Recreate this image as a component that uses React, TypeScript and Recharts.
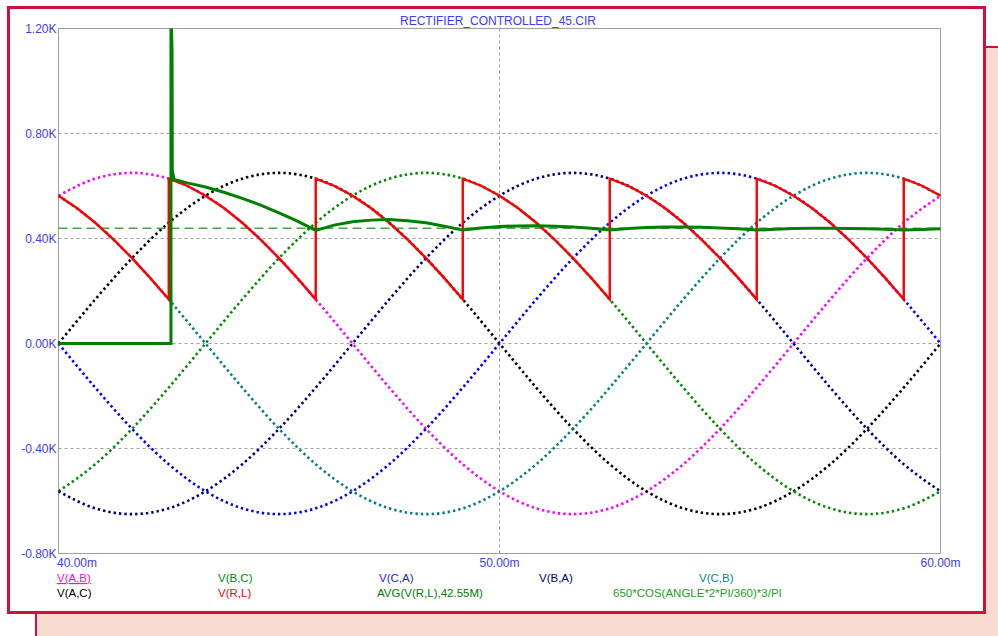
import { LineChart, Line, XAxis, YAxis, CartesianGrid, ReferenceArea } from "recharts";

// time axis in ms, one sample every 15 degrees of a 50 Hz cycle
const sineTime = [
  40, 40.833, 41.667, 42.5, 43.333, 44.167, 45, 45.833, 46.667, 47.5, 48.333, 49.167, 50,
  50.833, 51.667, 52.5, 53.333, 54.167, 55, 55.833, 56.667, 57.5, 58.333, 59.167, 60,
];

// line-to-line voltages (V)
const vAB = [563, 628, 650, 628, 563, 460, 325, 168, 0, -168, -325, -460, -563, -628, -650, -628, -563, -460, -325, -168, 0, 168, 325, 460, 563];
const vAC = [0, 168, 325, 460, 563, 628, 650, 628, 563, 460, 325, 168, 0, -168, -325, -460, -563, -628, -650, -628, -563, -460, -325, -168, 0];
const vBC = [-563, -460, -325, -168, 0, 168, 325, 460, 563, 628, 650, 628, 563, 460, 325, 168, 0, -168, -325, -460, -563, -628, -650, -628, -563];
const vBA = [-563, -628, -650, -628, -563, -460, -325, -168, 0, 168, 325, 460, 563, 628, 650, 628, 563, 460, 325, 168, 0, -168, -325, -460, -563];
const vCA = [0, -168, -325, -460, -563, -628, -650, -628, -563, -460, -325, -168, 0, 168, 325, 460, 563, 628, 650, 628, 563, 460, 325, 168, 0];
const vCB = [563, 460, 325, 168, 0, -168, -325, -460, -563, -628, -650, -628, -563, -460, -325, -168, 0, 168, 325, 460, 563, 628, 650, 628, 563];

// load voltage V(R,L), jumps every 60 degrees
const redTime = [
  40, 40.417, 40.833, 41.25, 41.667, 42.083, 42.5,
  42.5, 42.917, 43.333, 43.75, 44.167, 44.583, 45, 45.417, 45.833,
  45.833, 46.25, 46.667, 47.083, 47.5, 47.917, 48.333, 48.75, 49.167,
  49.167, 49.583, 50, 50.417, 50.833, 51.25, 51.667, 52.083, 52.5,
  52.5, 52.917, 53.333, 53.75, 54.167, 54.583, 55, 55.417, 55.833,
  55.833, 56.25, 56.667, 57.083, 57.5, 57.917, 58.333, 58.75, 59.167,
  59.167, 59.583, 60,
];
const redVolts = [
  563, 516, 460, 396, 325, 249, 168,
  628, 601, 563, 516, 460, 396, 325, 249, 168,
  628, 601, 563, 516, 460, 396, 325, 249, 168,
  628, 601, 563, 516, 460, 396, 325, 249, 168,
  628, 601, 563, 516, 460, 396, 325, 249, 168,
  628, 601, 563, 516, 460, 396, 325, 249, 168,
  628, 601, 563,
];

// AVG(V(R,L),42.55M)
const avgTime = [
  40, 42.55, 42.55, 42.575, 42.58, 42.62,
  42.917, 43.333, 43.75, 44.167, 44.583, 45, 45.417, 45.833,
  46.25, 46.667, 47.083, 47.5, 47.917, 48.333, 48.75, 49.167,
  49.583, 50, 50.417, 50.833, 51.25, 51.667, 52.083, 52.5,
  52.917, 53.333, 53.75, 54.167, 54.583, 55, 55.417, 55.833,
  56.25, 56.667, 57.083, 57.5, 57.917, 58.333, 58.75, 59.167,
  59.583, 60,
];
const avgVolts = [
  0, 0, 1300, 1110, 660, 625,
  612, 596, 576, 553, 527, 498, 466, 431,
  451, 464, 470, 472, 468, 460, 447, 432,
  440, 446, 448, 449, 447, 444, 439, 432,
  438, 442, 444, 444, 443, 440, 437, 432,
  435, 438, 439, 439, 438, 437, 435, 432,
  434, 437,
];

// 650*COS(ANGLE*2*PI/360)*3/PI
const cosTime = [40, 60];
const cosVolts = [439, 439];

const yTicks = [-800, -400, 0, 400, 800, 1200];
const xTicks = [40, 50, 60];

const sineRows = sineTime.map((t, i) => ({
  t, ab: vAB[i], ac: vAC[i], bc: vBC[i], ba: vBA[i], ca: vCA[i], cb: vCB[i],
}));
const redRows = redTime.map((t, i) => ({ t, v: redVolts[i] }));
const avgRows = avgTime.map((t, i) => ({ t, v: avgVolts[i] }));
const cosRows = cosTime.map((t, i) => ({ t, v: cosVolts[i] }));

const FONT = "'Liberation Sans', Arial, sans-serif";
const CRIMSON = "#d0103a";
const AXIS_BLUE = "#3c3cff";

const dotted = [
  { key: "ab", color: "#ff00ff" },
  { key: "ac", color: "#000000" },
  { key: "bc", color: "#008a00" },
  { key: "ba", color: "#000080" },
  { key: "ca", color: "#0000ff" },
  { key: "cb", color: "#008080" },
];

const legend = [
  { text: "V(A,B)", color: "#ff00ff", x: 57, y: 582, underline: true },
  { text: "V(B,C)", color: "#008a00", x: 218, y: 582 },
  { text: "V(C,A)", color: "#2020ff", x: 379, y: 582 },
  { text: "V(B,A)", color: "#000080", x: 539, y: 582 },
  { text: "V(C,B)", color: "#008a8a", x: 699, y: 582 },
  { text: "V(A,C)", color: "#000000", x: 57, y: 597 },
  { text: "V(R,L)", color: "#ff0000", x: 218, y: 597 },
  { text: "AVG(V(R,L),42.55M)", color: "#008000", x: 377, y: 597 },
  { text: "650*COS(ANGLE*2*PI/360)*3/PI", color: "#20a020", x: 613, y: 597 },
];

const YTick = ({ x, y, payload }: any) => (
  <text x={x} y={y + 4} textAnchor="end" fill={AXIS_BLUE} fontSize={12} fontFamily={FONT}>
    {(payload.value / 1000).toFixed(2) + "K"}
  </text>
);

const XTick = ({ x, y, payload, index }: any) => (
  <text
    x={index === 0 ? x - 1.5 : x}
    y={y + 13.5}
    textAnchor={index === 0 ? "start" : "middle"}
    fill={AXIS_BLUE}
    fontSize={12}
    fontFamily={FONT}
  >
    {payload.value.toFixed(2) + "m"}
  </text>
);

export default function App() {
  return (
    <div style={{ position: "fixed", left: 0, top: 0, width: 998, height: 636, background: "#fff", overflow: "hidden" }}>
      <div
        style={{
          position: "absolute", left: 35, top: 46, width: 1000, height: 700,
          background: "#f7dccf", borderTop: `2px solid ${CRIMSON}`, borderLeft: `2px solid ${CRIMSON}`,
        }}
      />
      <div
        style={{
          position: "absolute", left: 7, top: 6, width: 979, height: 608, boxSizing: "border-box",
          background: "#fff", border: `3px solid ${CRIMSON}`,
        }}
      />
      <div style={{ position: "absolute", left: 0, top: 0 }}>
        <LineChart
          width={998}
          height={636}
          data={sineRows}
          margin={{ top: 28.5, right: 57.5, bottom: 52.5, left: 8.5 }}
        >
          <CartesianGrid stroke="#a0a0a0" strokeDasharray="3 3" />
          <XAxis
            dataKey="t"
            type="number"
            domain={[40, 60]}
            ticks={xTicks}
            interval={0}
            height={30}
            axisLine={false}
            tickLine={false}
            tickSize={0}
            tickMargin={0}
            tick={<XTick />}
          />
          <YAxis
            type="number"
            domain={[-800, 1200]}
            ticks={yTicks}
            interval={0}
            allowDataOverflow
            width={50}
            axisLine={false}
            tickLine={false}
            tickSize={0}
            tickMargin={2}
            tick={<YTick />}
          />
          {dotted.map((s) => (
            <Line
              key={s.key}
              dataKey={s.key}
              type="monotone"
              stroke={s.color}
              strokeWidth={2.6}
              strokeDasharray="2.4 3"
              dot={false}
              activeDot={false}
              isAnimationActive={false}
            />
          ))}
          <Line
            data={cosRows}
            dataKey="v"
            type="linear"
            stroke="#44a844"
            strokeWidth={1.3}
            strokeDasharray="9 5"
            dot={false}
            activeDot={false}
            isAnimationActive={false}
          />
          <Line
            data={redRows}
            dataKey="v"
            type="linear"
            stroke="#ff0000"
            strokeWidth={2.4}
            dot={false}
            activeDot={false}
            isAnimationActive={false}
          />
          <Line
            data={avgRows}
            dataKey="v"
            type="linear"
            stroke="#008000"
            strokeWidth={3}
            dot={false}
            activeDot={false}
            isAnimationActive={false}
          />
          <ReferenceArea x1={40} x2={60} y1={-800} y2={1200} fill="none" stroke="#a0a0a0" strokeWidth={1} />
        </LineChart>
      </div>
      <svg width={998} height={636} style={{ position: "absolute", left: 0, top: 0, pointerEvents: "none" }}>
        <text x={498} y={25} textAnchor="middle" fill={AXIS_BLUE} fontSize={12} fontFamily={FONT}>
          RECTIFIER_CONTROLLED_45.CIR
        </text>
        {legend.map((l) => (
          <text key={l.text} x={l.x} y={l.y} fill={l.color} fontSize={11.5} fontFamily={FONT}
            textDecoration={l.underline ? "underline" : undefined}>
            {l.text}
          </text>
        ))}
      </svg>
    </div>
  );
}
